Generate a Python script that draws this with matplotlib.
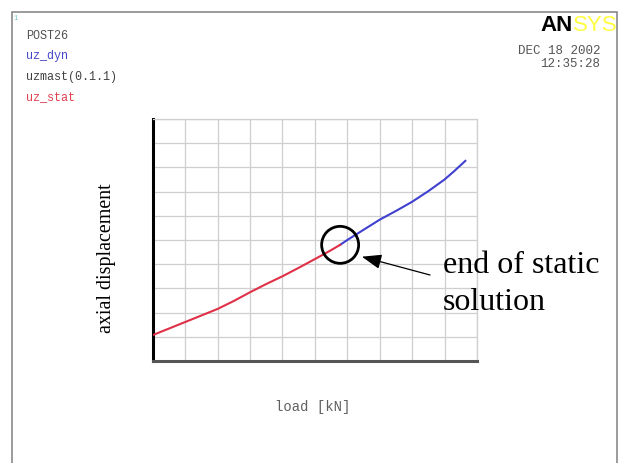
import matplotlib.pyplot as plt
from matplotlib.patches import Ellipse, Rectangle

# static solution (red) and dynamic solution (blue), in grid units
stat_load = [0.0, 0.5, 1.0, 1.5, 2.0, 2.5, 3.0, 3.5, 4.0, 4.5, 5.0, 5.5, 5.78]
stat_disp = [1.07, 1.34, 1.61, 1.88, 2.15, 2.48, 2.84, 3.18, 3.50, 3.85, 4.21, 4.58, 4.80]
dyn_load = [5.78, 6.0, 6.5, 7.0, 7.5, 8.0, 8.5, 9.0, 9.3, 9.64]
dyn_disp = [4.80, 5.00, 5.42, 5.84, 6.20, 6.58, 7.02, 7.50, 7.85, 8.27]

legend_names = ["POST26", "uz_dyn", "uzmast(0.1.1)", "uz_stat"]
legend_colors = ["#505050", "#4646c8", "#404040", "#e04050"]

W, H = 619, 463


def px(x, y):
    return x / W, 1 - y / H


fig = plt.figure(figsize=(W / 100, H / 100), dpi=100)

# window frame
fig.patches.append(Rectangle(px(12, 500), 605 / W, 488 / H, transform=fig.transFigure,
                             fill=False, edgecolor="#8a8a8a", lw=1.2))

ax = fig.add_axes([152.7 / W, 1 - 361 / H, 324.3 / W, 242 / H])
ax.set_xlim(0, 10)
ax.set_ylim(0, 10)
ax.set_xticks(range(11))
ax.set_yticks(range(11))
ax.tick_params(length=0, labelbottom=False, labelleft=False)
ax.grid(True, color="#cfcfcf", lw=0.9)
ax.set_axisbelow(True)
ax.spines["left"].set_color("black")
ax.spines["left"].set_linewidth(2.2)
ax.spines["bottom"].set_color("#555555")
ax.spines["bottom"].set_linewidth(2.2)
for side in ["top", "right"]:
    ax.spines[side].set_color("#cfcfcf")
    ax.spines[side].set_linewidth(0.9)

ax.plot(dyn_load, dyn_disp, color="#4040d0", lw=1.5, zorder=3)
ax.plot(stat_load, stat_disp, color="#e03048", lw=1.5, zorder=3)

# circle around the end of the static solution
ax.add_patch(Ellipse((stat_load[-1], stat_disp[-1]), 2 * 18.5 / 32.43, 2 * 18.5 / 24.2,
                     fill=False, edgecolor="black", lw=2, zorder=4))
ax.annotate("", xy=(6.45, 4.31), xycoords="data",
            xytext=px(430, 275), textcoords="figure fraction",
            arrowprops=dict(arrowstyle="-|>,head_length=1.2,head_width=0.45",
                            color="black", lw=0.9, shrinkA=0, shrinkB=0))

fig.text(*px(443, 273), "end of static", family="Liberation Serif", fontsize=23,
         ha="left", va="baseline")
fig.text(*px(443, 310), "solution", family="Liberation Serif", fontsize=23,
         ha="left", va="baseline")

fig.text(*px(107, 258), "axial displacement", family="Liberation Serif", fontsize=14.4,
         rotation=90, ha="center", va="center")
fig.text(*px(313, 407), "load [kN]", family="Liberation Mono", fontsize=10,
         color="#606060", ha="center", va="center")

# top-left legend texts
for i, (name, col) in enumerate(zip(legend_names, legend_colors)):
    fig.text(*px(26, 36 + 20.5 * i), name, family="Liberation Mono", fontsize=8.5,
             color=col, ha="left", va="center")
fig.text(*px(16, 18), "1", family="Liberation Mono", fontsize=5, color="#70c0c0",
         ha="center", va="center")

# date and logo
fig.text(*px(600, 51), "DEC 18 2002", family="Liberation Mono", fontsize=9,
         color="#555555", ha="right", va="center")
fig.text(*px(600, 64), "12:35:28", family="Liberation Mono", fontsize=9,
         color="#555555", ha="right", va="center")
fig.text(*px(573, 31), "AN", family="Liberation Sans", weight="bold", fontsize=16,
         color="black", ha="right", va="baseline")
fig.text(*px(573, 31), "SYS", family="Liberation Sans", fontsize=16,
         color="#ffff40", ha="left", va="baseline")

fig.savefig("out.png", dpi=100)
